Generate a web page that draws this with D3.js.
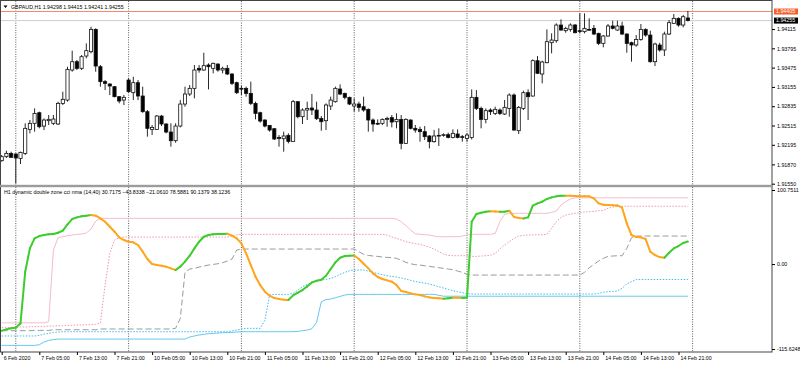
<!DOCTYPE html>
<html>
<head>
<meta charset="utf-8">
<script src="https://cdn.jsdelivr.net/npm/d3@7"></script>
<style>
body { margin: 0; background: #fff; }
text { font-family: "Liberation Sans", Arial, sans-serif; }
</style>
</head>
<body>
<script>
// GBPAUD H1, 6 Feb 21:00 .. 14 Feb 23:00 (one entry per bar)
var opens = [
1.91932,1.91998,1.92053,1.92042,1.91970,1.92053,1.92451,1.92551,1.92727,1.92506,
1.92595,1.92551,1.92540,1.92882,1.92937,1.93435,1.93573,1.93463,1.93667,1.93739,
1.94109,1.93490,1.93242,1.93203,1.93159,1.92993,1.92937,1.93269,1.93059,1.93225,
1.93004,1.92744,1.92451,1.92451,1.92672,1.92540,1.92407,1.92263,1.92506,1.92871,
1.93037,1.93131,1.93463,1.93435,1.93518,1.93463,1.93534,1.93435,1.93463,1.93369,
1.93225,1.93131,1.93131,1.93048,1.92882,1.92727,1.92606,1.92517,1.92462,1.92318,
1.92296,1.92352,1.92252,1.92910,1.92661,1.92772,1.92805,1.92772,1.92633,1.92595,
1.92838,1.92910,1.93120,1.93048,1.92982,1.92838,1.92871,1.92827,1.92783,1.92606,
1.92551,1.92551,1.92617,1.92645,1.92578,1.92617,1.92219,1.92606,1.92468,1.92451,
1.92413,1.92341,1.92247,1.92341,1.92352,1.92363,1.92318,1.92374,1.92330,1.92302,
1.92318,1.92982,1.92799,1.92617,1.92772,1.92716,1.92772,1.92705,1.92799,1.93020,
1.92429,1.92799,1.93059,1.93004,1.93590,1.93369,1.93557,1.93888,1.93921,1.94181,
1.94087,1.94109,1.94181,1.94087,1.94071,1.94109,1.94126,1.94043,1.93877,1.93999,
1.94165,1.94098,1.94165,1.94032,1.93888,1.93850,1.93943,1.94109,1.94015,1.93573,
1.93850,1.93767,1.94032,1.94209,1.94292,1.94181,1.94298];
var highs = [
1.92026,1.92097,1.92081,1.92053,1.92081,1.92551,1.92606,1.92799,1.92744,1.92633,
1.92689,1.92689,1.92910,1.93076,1.93490,1.93756,1.93601,1.93684,1.93877,1.94153,
1.94126,1.93518,1.93269,1.93214,1.93170,1.93004,1.93020,1.93297,1.93324,1.93269,
1.93159,1.92772,1.92523,1.92689,1.92689,1.92551,1.92551,1.92551,1.92937,1.93159,
1.93186,1.93518,1.93518,1.93722,1.93546,1.93557,1.93546,1.93490,1.93518,1.93380,
1.93242,1.93170,1.93159,1.93242,1.92910,1.92744,1.92617,1.92523,1.92468,1.92357,
1.92413,1.92385,1.92937,1.92921,1.92799,1.92910,1.93037,1.92910,1.92672,1.92882,
1.92993,1.93159,1.93197,1.93059,1.92993,1.92965,1.92910,1.92993,1.92799,1.92633,
1.92617,1.92633,1.92661,1.92689,1.92716,1.92689,1.92633,1.92617,1.92523,1.92495,
1.92506,1.92357,1.92440,1.92468,1.92385,1.92396,1.92451,1.92451,1.92357,1.92385,
1.93114,1.93103,1.92827,1.92799,1.92799,1.92827,1.92799,1.92937,1.93048,1.93048,
1.92838,1.93092,1.93114,1.93612,1.93667,1.93590,1.94109,1.94043,1.94209,1.94275,
1.94153,1.94209,1.94198,1.94375,1.94375,1.94292,1.94181,1.94054,1.94015,1.94198,
1.94253,1.94253,1.94236,1.94043,1.93905,1.94015,1.94198,1.94126,1.94087,1.93888,
1.93888,1.94071,1.94264,1.94364,1.94308,1.94347,1.94415];
var lows = [
1.91915,1.91976,1.91987,1.91556,1.91876,1.92026,1.92385,1.92413,1.92468,1.92440,
1.92523,1.92523,1.92523,1.92855,1.92910,1.93407,1.93435,1.93435,1.93628,1.93711,
1.93407,1.93159,1.93103,1.93020,1.92982,1.92882,1.92855,1.93059,1.92937,1.92937,
1.92727,1.92330,1.92357,1.92440,1.92506,1.92385,1.92164,1.92230,1.92484,1.92827,
1.93004,1.92965,1.93391,1.93424,1.93114,1.93380,1.93407,1.93380,1.93352,1.93186,
1.93037,1.93020,1.92993,1.92855,1.92617,1.92562,1.92484,1.92413,1.92274,1.92164,
1.92081,1.92219,1.92247,1.92633,1.92540,1.92606,1.92689,1.92606,1.92429,1.92440,
1.92772,1.92893,1.93020,1.92949,1.92855,1.92744,1.92744,1.92744,1.92413,1.92413,
1.92523,1.92523,1.92495,1.92484,1.92468,1.92120,1.92208,1.92451,1.92396,1.92247,
1.92274,1.92136,1.92230,1.92175,1.92330,1.92302,1.92302,1.92302,1.92247,1.92247,
1.92285,1.92772,1.92468,1.92551,1.92689,1.92689,1.92689,1.92689,1.92661,1.92429,
1.92374,1.92772,1.92606,1.92993,1.93369,1.93214,1.93546,1.93711,1.93888,1.94087,
1.94054,1.94071,1.94043,1.94043,1.94043,1.94087,1.94015,1.93850,1.93811,1.93988,
1.94109,1.94087,1.94015,1.93722,1.93573,1.93822,1.93921,1.93988,1.93557,1.93501,
1.93739,1.93667,1.94015,1.94198,1.94153,1.94142,1.94241];
var closes = [
1.91998,1.92053,1.91987,1.91976,1.92070,1.92468,1.92551,1.92716,1.92495,1.92606,
1.92617,1.92622,1.92882,1.92949,1.93446,1.93573,1.93463,1.93656,1.93756,1.94109,
1.93501,1.93242,1.93214,1.93170,1.92993,1.92921,1.92982,1.93076,1.93225,1.93004,
1.92744,1.92468,1.92484,1.92672,1.92540,1.92407,1.92263,1.92506,1.92871,1.93037,
1.93131,1.93435,1.93435,1.93507,1.93490,1.93546,1.93435,1.93463,1.93369,1.93214,
1.93059,1.93120,1.93048,1.92882,1.92716,1.92589,1.92506,1.92440,1.92291,1.92302,
1.92341,1.92252,1.92910,1.92661,1.92772,1.92799,1.92772,1.92628,1.92578,1.92855,
1.92937,1.93131,1.93037,1.92982,1.92871,1.92871,1.92816,1.92772,1.92606,1.92540,
1.92540,1.92617,1.92633,1.92573,1.92617,1.92219,1.92617,1.92468,1.92440,1.92413,
1.92330,1.92247,1.92341,1.92352,1.92363,1.92318,1.92385,1.92318,1.92324,1.92357,
1.92982,1.92799,1.92617,1.92761,1.92744,1.92783,1.92716,1.92816,1.93020,1.92440,
1.92816,1.93059,1.92993,1.93590,1.93380,1.93568,1.93905,1.93932,1.94181,1.94098,
1.94126,1.94181,1.94054,1.94082,1.94126,1.94104,1.94032,1.93877,1.93999,1.94165,
1.94126,1.94165,1.94032,1.93877,1.93850,1.93943,1.94109,1.94015,1.93573,1.93866,
1.93767,1.94032,1.94220,1.94292,1.94181,1.94319,1.94255];

// indicator buffers
var cci = [
-90.7,-88.9,-87.5,-86.6,-80.7,-10.4,21.3,34.9,38.1,39.5,
40.4,40.8,42.6,45.4,54.0,61.2,63.5,64.9,65.8,66.7,
65.8,62.1,57.6,50.8,44.0,36.3,32.7,30.4,29.5,25.9,
16.8,6.8,0.0,-1.4,-2.3,-3.6,-5.9,-8.2,-3.6,3.2,
11.3,21.3,30.4,37.2,39.5,40.4,40.8,41.0,41.3,38.5,
34.9,28.1,14.5,-1.4,-17.2,-28.6,-37.6,-43.1,-46.3,-47.6,
-48.5,-49.0,-42.6,-39.0,-35.4,-30.4,-25.0,-22.7,-21.3,-15.9,
-6.8,2.3,8.6,10.9,11.3,11.6,6.8,0.4,-5.9,-12.7,
-17.7,-20.4,-22.2,-24.0,-28.6,-36.7,-38.1,-39.9,-41.3,-42.2,
-44.0,-45.4,-46.3,-46.7,-47.2,-46.7,-45.8,-46.0,-46.3,-45.8,
57.6,68.0,69.9,71.2,71.8,71.4,71.0,71.2,72.6,64.0,
62.6,62.1,63.5,79.4,82.5,84.8,88.5,90.7,92.1,92.8,
93.0,92.9,92.5,92.4,92.3,92.1,89.4,82.5,80.7,80.3,
80.1,79.8,76.7,55.3,39.5,36.7,36.3,34.0,16.8,12.2,
9.5,8.6,15.4,21.3,24.5,28.6,30.7175];
var zoneUpper = [
-80.0,-80.0,-80.0,-80.0,-80.0,-80.0,-80.0,-80.0,-80.0,-80.0,
-78.5,19.0,35.8,37.2,38.5,39.5,40.4,40.8,42.2,47.6,
58.5,62.1,62.1,62.1,62.1,62.1,62.1,62.1,62.1,62.1,
62.1,62.1,62.1,62.1,62.1,62.1,62.1,62.1,62.1,62.1,
62.1,62.1,62.1,62.1,62.1,62.1,62.1,62.1,62.1,62.1,
62.1,62.1,62.1,62.1,62.1,62.1,62.1,62.1,62.1,62.1,
62.1,62.1,62.1,62.1,62.1,62.1,62.1,62.1,62.1,62.1,
62.1,62.1,62.1,62.1,62.1,62.1,62.1,62.1,62.1,62.1,
62.1,62.1,62.1,62.1,61.2,57.6,52.2,46.3,41.3,40.4,
39.9,39.5,38.1,37.2,37.2,37.2,37.2,37.2,38.1,39.5,
40.4,40.4,40.4,40.4,40.4,41.7,57.6,67.6,69.0,69.0,
69.0,69.0,69.0,69.0,69.0,69.0,69.0,70.3,72.1,80.3,
84.8,88.5,90.1,90.1,90.1,90.1,90.1,90.1,90.1,90.1,
90.1,90.1,90.1,90.1,90.1,90.1,90.1,90.1,90.1,90.1,
90.1,90.1,90.1,90.1,90.1,90.1,90.1379];
var zoneUpperInner = [
-86.6,-86.6,-86.2,-86.2,-85.7,-85.7,-85.3,-85.3,-84.8,-84.8,
-84.4,-84.4,-83.9,-83.9,-83.5,-83.5,-83.0,-83.0,-82.6,-82.6,
-82.1,-80.3,-28.6,14.5,32.7,35.8,36.7,36.7,36.7,36.7,
36.7,36.7,36.7,36.7,36.7,36.7,36.7,36.7,36.7,36.7,
36.7,36.7,36.7,36.7,36.7,36.7,36.7,36.7,36.7,38.5,
39.9,40.4,40.4,40.4,40.4,40.4,40.4,40.4,40.4,40.4,
40.4,40.4,40.4,40.4,40.4,40.4,40.4,40.4,40.4,40.4,
40.4,40.4,40.4,40.4,40.4,40.4,40.4,40.4,40.4,40.4,
40.4,40.4,39.5,36.7,34.9,32.7,30.4,29.0,27.7,26.8,
25.0,23.1,20.4,16.8,13.6,11.8,11.3,11.3,11.3,11.3,
10.4,10.4,10.9,11.3,11.8,14.5,20.4,25.9,30.4,34.9,
38.1,39.0,39.5,39.5,39.9,39.9,40.4,48.5,57.6,63.5,
66.7,68.0,69.0,69.9,70.8,71.2,71.7,72.6,73.0,75.8,
77.6,78.6,78.6,78.6,78.6,78.6,78.6,78.6,78.6,78.6,
78.6,78.6,78.6,78.6,78.6,78.6,78.5881];
var zoneMid = [
-90.7,-90.7,-90.7,-90.7,-90.7,-90.7,-90.7,-90.3,-90.3,-90.3,
-90.3,-89.4,-89.4,-89.4,-89.4,-89.4,-89.4,-89.4,-89.4,-89.4,
-89.4,-88.4,-88.4,-88.4,-88.4,-88.4,-88.4,-88.4,-88.4,-88.4,
-88.4,-88.4,-88.4,-88.4,-88.4,-88.4,-88.4,-87.5,-73.9,-11.3,
-6.8,-5.9,-4.1,-2.7,-1.4,-0.5,0.4,1.8,4.1,6.8,
19.0,20.4,20.4,20.4,20.4,20.4,20.4,20.4,20.4,20.4,
20.4,20.4,20.4,20.4,20.4,20.4,20.4,20.4,20.4,20.4,
20.4,20.4,20.4,20.4,20.4,20.4,16.8,13.2,11.8,10.9,
10.4,9.5,9.1,8.6,7.7,5.4,2.3,0.4,-0.9,-1.4,
-2.3,-3.2,-4.1,-5.0,-5.9,-6.8,-7.7,-9.5,-11.3,-14.1,
-15.0,-15.0,-15.0,-15.0,-15.0,-15.0,-15.0,-15.0,-15.0,-15.0,
-15.0,-15.0,-15.0,-15.0,-15.0,-15.0,-15.0,-15.0,-15.0,-15.0,
-15.0,-15.0,-15.0,-15.0,-11.3,-5.0,-0.5,4.1,7.7,10.4,
10.9,11.3,11.3,21.3,35.8,38.1,38.1,38.1,38.1,38.1,
38.1,38.1,38.1,38.1,38.1,38.1,38.1236];
var zoneLowerInner = [
-97.9,-97.9,-97.9,-97.9,-97.9,-97.9,-97.9,-97.9,-97.1,-95.3,
-94.4,-93.0,-92.5,-92.1,-92.1,-92.1,-92.1,-92.1,-92.1,-92.1,
-92.1,-92.1,-92.1,-92.1,-92.1,-92.1,-92.1,-92.1,-92.1,-92.1,
-92.1,-92.1,-92.1,-92.1,-92.1,-92.1,-92.1,-92.1,-92.1,-92.1,
-92.1,-92.1,-92.1,-92.1,-92.1,-92.1,-92.1,-92.1,-92.1,-91.2,
-89.8,-88.4,-87.5,-87.5,-87.5,-87.5,-76.2,-42.2,-41.3,-41.3,
-41.3,-41.3,-39.9,-35.4,-30.8,-27.7,-25.4,-23.1,-21.8,-20.9,
-19.5,-17.2,-14.1,-11.3,-9.1,-8.2,-8.2,-8.2,-9.5,-11.3,
-13.1,-14.5,-15.9,-16.8,-17.7,-19.0,-20.4,-22.2,-23.6,-25.0,
-25.9,-27.2,-29.0,-30.8,-32.7,-34.5,-36.3,-37.6,-39.0,-40.4,
-40.8,-40.8,-40.8,-40.8,-40.8,-40.8,-40.8,-40.8,-40.8,-40.8,
-40.8,-40.8,-40.8,-40.8,-40.8,-40.8,-40.8,-40.8,-40.8,-40.8,
-40.8,-40.8,-40.8,-40.8,-40.8,-40.8,-40.8,-39.9,-38.5,-37.6,
-37.2,-36.7,-33.1,-26.8,-24.0,-21.1,-21.1,-21.1,-21.1,-21.1,
-21.1,-21.1,-21.1,-21.1,-21.1,-21.1,-21.061];
var zoneLower = [
-110.7,-110.7,-110.7,-110.7,-110.7,-110.7,-110.7,-110.7,-109.8,-106.1,
-103.9,-102.9,-102.1,-102.1,-102.1,-102.1,-102.1,-102.1,-102.1,-102.1,
-102.1,-102.1,-102.1,-102.1,-102.1,-102.1,-102.1,-102.1,-102.1,-102.1,
-102.1,-102.1,-102.1,-102.1,-102.1,-102.1,-102.1,-102.1,-102.1,-102.1,
-99.3,-97.9,-96.6,-95.7,-94.8,-94.4,-93.9,-93.4,-93.4,-93.0,
-92.5,-92.1,-92.1,-92.1,-92.1,-92.1,-92.1,-92.1,-92.1,-92.1,
-92.1,-92.1,-92.1,-91.6,-90.7,-89.8,-88.0,-79.4,-51.3,-48.5,
-47.6,-45.8,-44.0,-42.2,-41.3,-41.3,-41.3,-41.3,-41.3,-41.3,
-41.3,-41.3,-41.3,-41.3,-41.3,-41.3,-41.3,-41.3,-41.3,-41.3,
-41.3,-41.3,-41.3,-42.5,-43.8,-43.8,-43.8,-43.8,-43.8,-43.8,
-43.8,-43.8,-43.8,-43.8,-43.8,-43.8,-43.8,-43.8,-43.8,-43.8,
-43.8,-43.8,-43.8,-43.8,-43.8,-43.8,-43.8,-43.8,-43.8,-43.8,
-43.8,-43.8,-43.8,-43.8,-43.8,-43.8,-43.8,-43.8,-43.8,-43.8,
-43.8,-43.8,-43.8,-43.8,-43.8,-43.8,-43.8,-43.8,-43.8,-43.8,
-43.8,-43.8,-43.8,-43.8,-43.8,-43.8,-43.8338];

// axis labels
var timeLabels = ["6 Feb 2020", "7 Feb 05:00", "7 Feb 13:00", "7 Feb 21:00", "10 Feb 05:00",
  "10 Feb 13:00", "10 Feb 21:00", "11 Feb 05:00", "11 Feb 13:00", "11 Feb 21:00", "12 Feb 05:00",
  "12 Feb 13:00", "12 Feb 21:00", "13 Feb 05:00", "13 Feb 13:00", "13 Feb 21:00", "14 Feb 05:00",
  "14 Feb 13:00", "14 Feb 21:00"];
var timeLabelBars = [0, 8, 16, 24, 32, 40, 48, 56, 64, 72, 80, 88, 96, 104, 112, 120, 128, 136, 144];
var dayStartBars = [3, 27, 51, 75, 99, 123, 147];
var priceTicks = [1.94115, 1.93795, 1.93475, 1.93155, 1.92835, 1.92515, 1.92195, 1.91870, 1.91550];
var indTicks = [100.7511, 0, -115.6248];
var indTickLabels = ["100.7511", "0.00", "-115.6248"];
var levelPrice = 1.94405;
var bidPrice = 1.94255;

var width = 800, height = 365;
var plotRight = 772;
var mainTop = 1, mainBottom = 185, subTop = 187, subBottom = 352;
var fontSize = 5.3;

var svg = d3.select("body").append("svg")
	.attr("width", width)
	.attr("height", height);

var x = d3.scaleLinear().domain([0, 146]).range([1.7, 687.9]);
var y = d3.scaleLinear().domain([1.91550, 1.94563]).range([183.7, 2]);
var yInd = d3.scaleLinear().domain([-115.6248, 100.7511]).range([349, 190]);

// clip each panel
var defs = svg.append("defs");
defs.append("clipPath").attr("id", "clipMain").append("rect")
	.attr("x", 1).attr("y", mainTop).attr("width", plotRight - 1).attr("height", mainBottom - mainTop);
defs.append("clipPath").attr("id", "clipSub").append("rect")
	.attr("x", 1).attr("y", subTop).attr("width", plotRight - 1).attr("height", subBottom - subTop);

var main = svg.append("g").attr("clip-path", "url(#clipMain)");
var sub = svg.append("g").attr("clip-path", "url(#clipSub)");

// daily grid (dotted)
[[main, mainTop, mainBottom], [sub, subTop, subBottom]].forEach(function(p) {
	p[0].selectAll(".vgrid").data(dayStartBars).enter().append("line")
		.attr("class", "vgrid")
		.attr("x1", function(d) { return x(d); })
		.attr("x2", function(d) { return x(d); })
		.attr("y1", p[1]).attr("y2", p[2])
		.attr("stroke", "#333")
		.attr("stroke-width", 0.8)
		.attr("stroke-dasharray", "1,1.4");
});

// horizontal level + bid line
main.append("line")
	.attr("x1", 1).attr("x2", plotRight)
	.attr("y1", y(levelPrice)).attr("y2", y(levelPrice))
	.attr("stroke", "#f08a6a").attr("stroke-width", 1);
main.append("line")
	.attr("x1", 1).attr("x2", plotRight)
	.attr("y1", y(bidPrice)).attr("y2", y(bidPrice))
	.attr("stroke", "#cfcfcf").attr("stroke-width", 1);

// candles
var bars = d3.range(opens.length);
var candle = main.selectAll(".candle").data(bars).enter().append("g").attr("class", "candle");
candle.append("line")
	.attr("x1", function(i) { return x(i); })
	.attr("x2", function(i) { return x(i); })
	.attr("y1", function(i) { return y(highs[i]); })
	.attr("y2", function(i) { return y(lows[i]); })
	.attr("stroke", "#111")
	.attr("stroke-width", 0.9);
candle.append("rect")
	.attr("x", function(i) { return x(i) - 1.6; })
	.attr("width", 3.2)
	.attr("y", function(i) { return y(Math.max(opens[i], closes[i])); })
	.attr("height", function(i) { return Math.max(0.8, Math.abs(y(opens[i]) - y(closes[i]))); })
	.attr("fill", function(i) { return closes[i] >= opens[i] ? "#fff" : "#000"; })
	.attr("stroke", "#111")
	.attr("stroke-width", 0.8);

// indicator zone lines
var line = d3.line()
	.x(function(d, i) { return x(i); })
	.y(function(d) { return yInd(d); });

var zones = [
	{ data: zoneLower, color: "#66c8ee", dash: null },
	{ data: zoneLowerInner, color: "#3dbdf0", dash: "1.5,1.5" },
	{ data: zoneMid, color: "#9a9a9a", dash: "6,3" },
	{ data: zoneUpperInner, color: "#ee98ae", dash: "1.5,1.5" },
	{ data: zoneUpper, color: "#f5bccb", dash: null }
];
zones.forEach(function(z) {
	sub.append("path")
		.datum(z.data)
		.attr("d", line)
		.attr("fill", "none")
		.attr("stroke", z.color)
		.attr("stroke-width", 1)
		.attr("stroke-dasharray", z.dash);
});

// CCI: green while rising, orange while falling
var segColor = [];
var prev = "#3ccc2c";
for (var i = 1; i < cci.length; i++) {
	if (cci[i] > cci[i - 1]) prev = "#3ccc2c";
	else if (cci[i] < cci[i - 1]) prev = "#ffa51c";
	segColor.push({ i: i, color: prev });
}
sub.selectAll(".cciSeg").data(segColor).enter().append("line")
	.attr("class", "cciSeg")
	.attr("x1", function(d) { return x(d.i - 1); })
	.attr("x2", function(d) { return x(d.i); })
	.attr("y1", function(d) { return yInd(cci[d.i - 1]); })
	.attr("y2", function(d) { return yInd(cci[d.i]); })
	.attr("stroke", function(d) { return d.color; })
	.attr("stroke-width", 2)
	.attr("stroke-linecap", "round");

// frames and separator
svg.append("rect")
	.attr("x", 0.5).attr("y", 0.5)
	.attr("width", plotRight - 0.5).attr("height", subBottom - 0.5)
	.attr("fill", "none").attr("stroke", "#444").attr("stroke-width", 1);
svg.append("rect")
	.attr("x", 0).attr("y", 184.8)
	.attr("width", plotRight + 1).attr("height", 2.4)
	.attr("fill", "#9c9c9c");

// price axis
var yAxis = d3.axisRight(y)
	.tickValues(priceTicks)
	.tickSize(3)
	.tickPadding(2)
	.tickFormat(d3.format(".5f"));
var gy = svg.append("g")
	.attr("transform", "translate(" + plotRight + ",0)")
	.call(yAxis);

var indAxis = d3.axisRight(yInd)
	.tickValues(indTicks)
	.tickSize(3)
	.tickPadding(2)
	.tickFormat(function(d, i) { return indTickLabels[i]; });
var gi = svg.append("g")
	.attr("transform", "translate(" + plotRight + ",0)")
	.call(indAxis);

var xAxis = d3.axisBottom(x)
	.tickValues(timeLabelBars)
	.tickSize(3)
	.tickPadding(1)
	.tickFormat(function(d, i) { return timeLabels[i]; });
var gx = svg.append("g")
	.attr("transform", "translate(0," + subBottom + ")")
	.call(xAxis);
gx.selectAll("text").attr("text-anchor", "start").attr("dx", 1.5);

[gy, gi, gx].forEach(function(g) {
	g.select(".domain").remove();
	g.selectAll("text").attr("font-size", fontSize).attr("font-family", "Liberation Sans, Arial, sans-serif").attr("fill", "#000");
	g.selectAll(".tick line").attr("stroke", "#000");
});

// bid / level price tags
var fmt5 = d3.format(".5f");
[[levelPrice, "#f6602c"], [bidPrice, "#000"]].forEach(function(t) {
	var ty = y(t[0]);
	svg.append("rect")
		.attr("x", plotRight + 2).attr("y", ty - 3)
		.attr("width", 24).attr("height", 6)
		.attr("fill", t[1]);
	svg.append("text")
		.attr("x", plotRight + 4).attr("y", ty)
		.attr("dy", "0.35em")
		.attr("font-size", fontSize)
		.attr("fill", "#fff")
		.text(fmt5(t[0]));
});

// titles
var last = opens.length - 1;
svg.append("path")
	.attr("d", "M3.5,5.5 L7.5,5.5 L5.5,8 Z")
	.attr("fill", "#000");
svg.append("text")
	.attr("x", 11).attr("y", 8.6)
	.attr("font-size", fontSize)
	.text("GBPAUD,H1 " + [opens[last], highs[last], lows[last], closes[last]].map(fmt5).join(" "));

var fmt4 = d3.format(".4f");
svg.append("text")
	.attr("x", 4).attr("y", 193.8)
	.attr("font-size", fontSize)
	.text("H1 dynamic double zone cci nma (14,40) " +
		[cci[last], zoneLower[last], zoneLowerInner[last], zoneUpperInner[last], zoneUpper[last], zoneMid[last]]
			.map(fmt4).join(" "));
</script>
</body>
</html>
